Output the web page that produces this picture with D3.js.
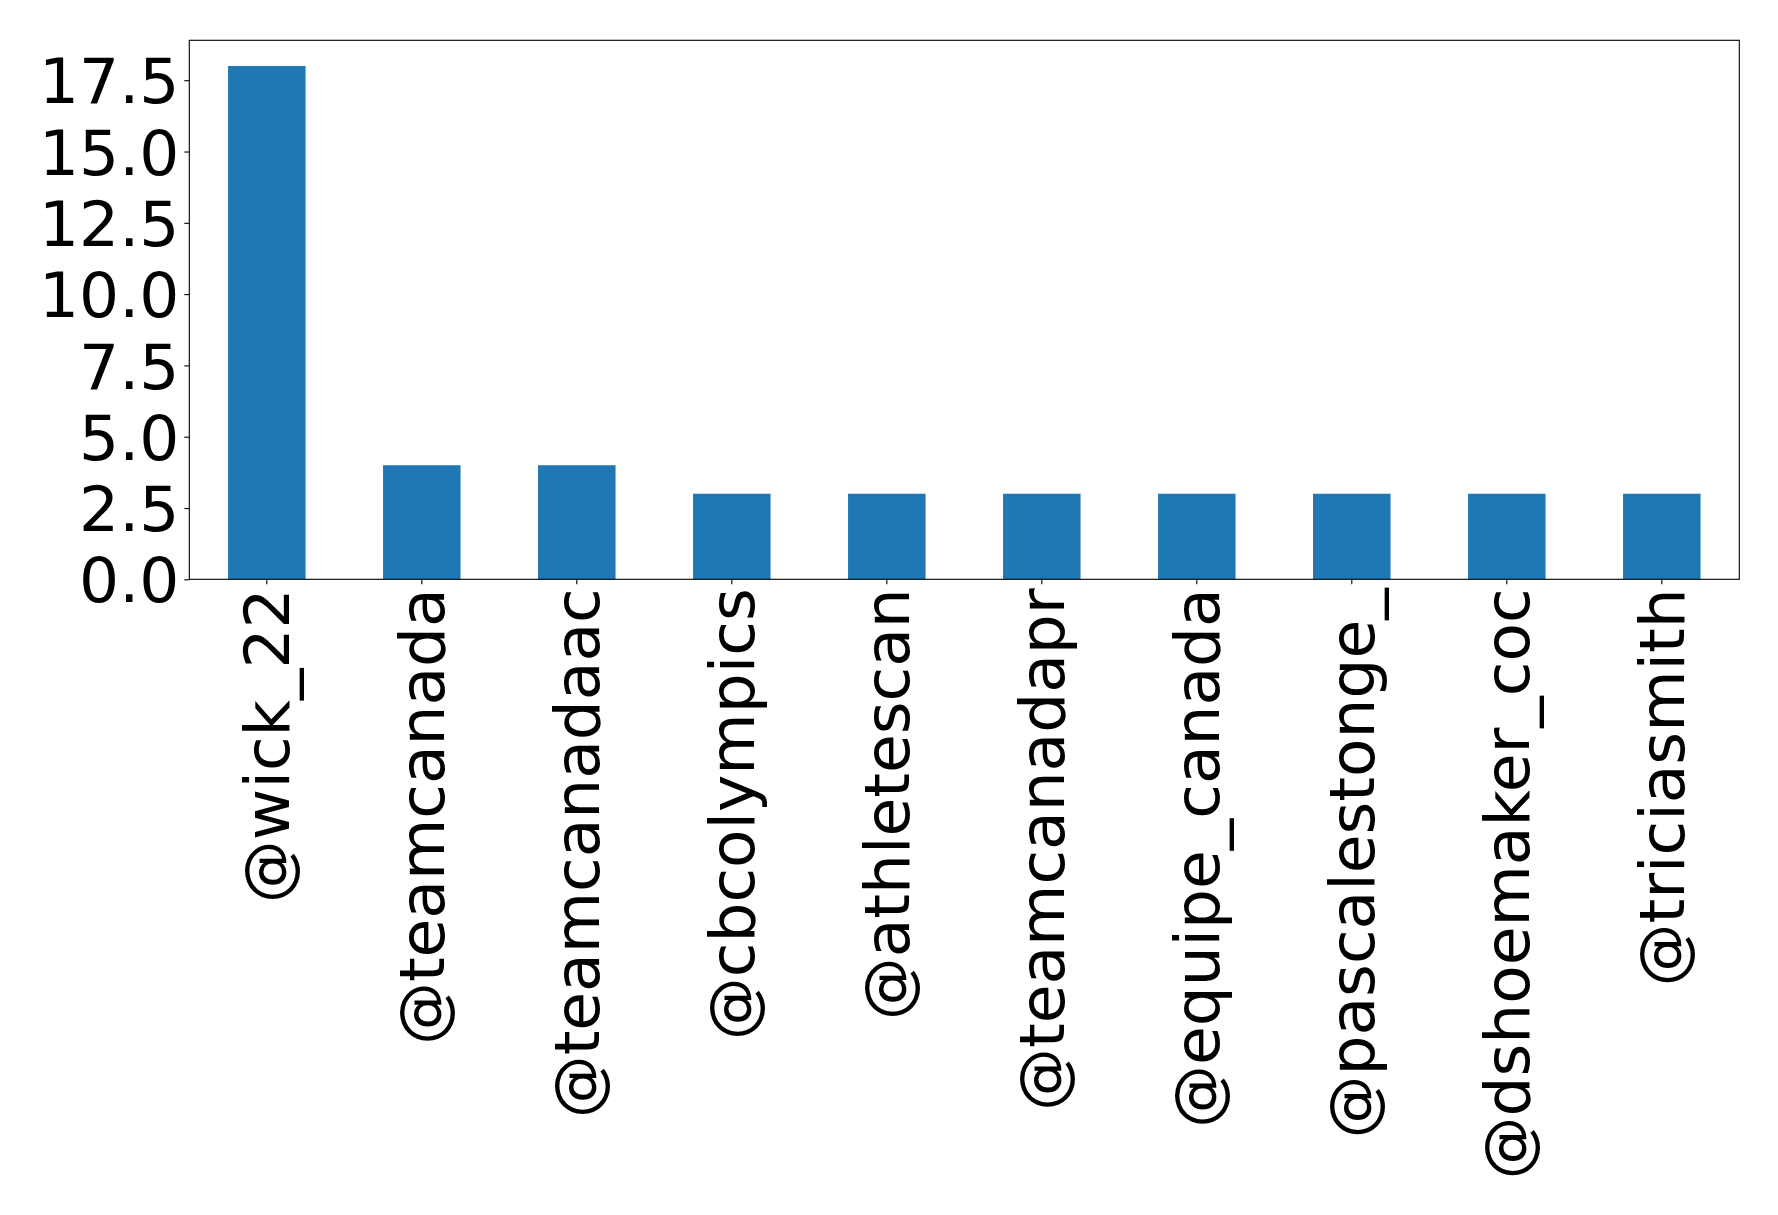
<!DOCTYPE html>
<html><head><meta charset="utf-8">
<script src="https://cdn.jsdelivr.net/npm/d3@7"></script>
<style>body{margin:0;background:#fff}svg{display:block}</style>
</head><body>
<script>
const categories = ["@wick_22","@teamcanada","@teamcanadaac","@cbcolympics","@athletescan","@teamcanadapr","@equipe_canada","@pascalestonge_","@dshoemaker_coc","@triciasmith"];
const values = [18,4,4,3,3,3,3,3,3,3];
const yTicks = [0,2.5,5,7.5,10,12.5,15,17.5];

const W=1778,H=1215;
const m={left:189.3,right:1739.3,top:40.3,bottom:579.3};
const svg=d3.select("body").append("svg").attr("width",W).attr("height",H);
const x=d3.scaleBand().domain(categories).range([m.left,m.right]).paddingInner(0.5).paddingOuter(0.25);
const y=d3.scaleLinear().domain([0,18.9]).range([m.bottom,m.top]);
const font="DejaVu Sans";
const fs=63;

svg.append("g").selectAll("rect").data(values).join("rect")
  .attr("x",(d,i)=>x(categories[i])).attr("width",x.bandwidth())
  .attr("y",d=>y(d)).attr("height",d=>y(0)-y(d)).attr("fill","#1f77b4");

const ya=d3.axisLeft(y).tickValues(yTicks).tickFormat(d3.format(".1f")).tickSize(5).tickPadding(5);
const gy=svg.append("g").attr("transform",`translate(${m.left},0)`).call(ya);
gy.select(".domain").remove();
gy.selectAll("line").attr("stroke","#000").attr("stroke-width",1.1);
gy.selectAll("text").attr("font-family",font).attr("font-size",fs).attr("fill","#000").attr("dy","0.36em");

const xa=d3.axisBottom(x).tickSize(5).tickPadding(0);
const gx=svg.append("g").attr("transform",`translate(0,${m.bottom})`).call(xa);
gx.select(".domain").remove();
gx.selectAll("line").attr("stroke","#000").attr("stroke-width",1.1);
gx.selectAll("text").attr("font-family",font).attr("font-size",fs).attr("fill","#000")
  .attr("text-anchor","end").attr("y",0).attr("dy","0.36em")
  .attr("transform","translate(0,9) rotate(-90)");

svg.append("rect").attr("x",m.left).attr("y",m.top).attr("width",m.right-m.left).attr("height",m.bottom-m.top)
  .attr("fill","none").attr("stroke","#000").attr("stroke-width",1.1);
</script>
</body></html>
